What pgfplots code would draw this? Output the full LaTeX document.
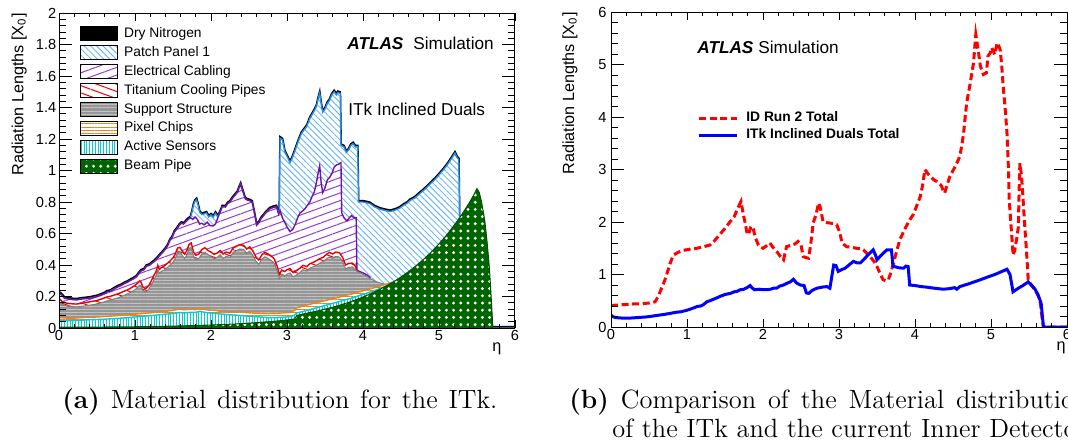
\documentclass[border=0pt]{standalone}
\usepackage{fontspec}
\newfontfamily\arial{Liberation Sans}
\usepackage{pgfplots}
\pgfplotsset{compat=1.18}
\usepackage{pgfplotstable}
\usetikzlibrary{patterns.meta}

\definecolor{ppline}{RGB}{40,140,230}
\definecolor{pphatch}{RGB}{90,175,250}
\definecolor{ecline}{RGB}{110,20,170}
\definecolor{echatch}{RGB}{150,60,205}
\definecolor{tiline}{RGB}{235,0,0}
\definecolor{ssfill}{RGB}{150,150,150}
\definecolor{sshatch}{RGB}{195,195,195}
\definecolor{ssline}{RGB}{125,125,125}
\definecolor{pcline}{RGB}{235,130,30}
\definecolor{asline}{RGB}{0,205,215}
\definecolor{bpfill}{RGB}{0,100,0}

% left panel: cumulative tops of the stacked layers
\pgfplotstableread{
x y
0.00 0.222
0.03 0.212
0.07 0.190
0.12 0.184
0.18 0.180
0.23 0.178
0.30 0.184
0.35 0.186
0.41 0.190
0.46 0.195
0.50 0.199
0.55 0.208
0.60 0.218
0.63 0.228
0.67 0.232
0.70 0.240
0.74 0.252
0.78 0.262
0.82 0.270
0.86 0.282
0.90 0.290
0.94 0.302
0.98 0.312
1.02 0.325
1.05 0.345
1.08 0.362
1.12 0.370
1.15 0.392
1.19 0.398
1.22 0.410
1.26 0.425
1.29 0.440
1.33 0.462
1.36 0.478
1.40 0.500
1.43 0.522
1.46 0.555
1.49 0.575
1.52 0.610
1.55 0.628
1.58 0.650
1.61 0.665
1.64 0.660
1.67 0.675
1.70 0.690
1.73 0.700
1.75 0.735
1.77 0.780
1.79 0.805
1.81 0.815
1.83 0.780
1.85 0.735
1.88 0.720
1.91 0.725
1.94 0.730
1.97 0.705
2.00 0.718
2.03 0.705
2.06 0.728
2.09 0.705
2.12 0.735
2.15 0.770
2.19 0.768
2.22 0.790
2.25 0.800
2.29 0.828
2.32 0.845
2.35 0.862
2.37 0.890
2.39 0.912
2.42 0.865
2.45 0.820
2.48 0.812
2.51 0.808
2.54 0.800
2.57 0.730
2.60 0.652
2.63 0.668
2.66 0.695
2.69 0.712
2.72 0.730
2.75 0.745
2.78 0.758
2.82 0.765
2.86 0.770
2.89 0.722
2.90 0.735
2.91 1.205
2.94 1.195
2.97 1.120
3.00 1.090
3.04 1.050
3.07 1.080
3.10 1.120
3.13 1.160
3.16 1.200
3.19 1.235
3.22 1.255
3.26 1.280
3.30 1.330
3.33 1.355
3.36 1.380
3.39 1.410
3.41 1.455
3.43 1.490
3.45 1.420
3.47 1.370
3.50 1.390
3.53 1.425
3.56 1.445
3.59 1.480
3.62 1.500
3.65 1.480
3.67 1.495
3.70 1.490
3.71 1.160
3.75 1.150
3.78 1.115
3.81 1.130
3.84 1.160
3.87 1.170
3.90 1.150
3.93 1.150
3.94 0.800
4.00 0.800
4.05 0.795
4.09 0.790
4.15 0.770
4.22 0.755
4.30 0.745
4.36 0.740
4.42 0.748
4.48 0.760
4.53 0.778
4.58 0.792
4.62 0.810
4.68 0.825
4.75 0.855
4.80 0.875
4.85 0.898
4.90 0.922
4.95 0.945
5.00 0.972
5.05 1.000
5.10 1.030
5.15 1.065
5.21 1.110
5.24 1.080
5.26 1.070
5.27 0.700
5.28 0.690
5.30 0.000
6.00 0.000
}\pp

\pgfplotstableread{
x y
0.00 0.222
0.03 0.212
0.07 0.190
0.12 0.184
0.18 0.180
0.23 0.178
0.30 0.184
0.35 0.186
0.41 0.190
0.46 0.195
0.50 0.199
0.55 0.208
0.60 0.218
0.63 0.228
0.67 0.232
0.70 0.240
0.74 0.252
0.78 0.262
0.82 0.270
0.86 0.282
0.90 0.290
0.94 0.302
0.98 0.312
1.02 0.325
1.05 0.345
1.08 0.362
1.12 0.370
1.15 0.392
1.19 0.398
1.22 0.410
1.26 0.425
1.29 0.440
1.33 0.462
1.36 0.478
1.40 0.500
1.43 0.522
1.46 0.555
1.49 0.575
1.52 0.610
1.55 0.628
1.58 0.650
1.61 0.665
1.64 0.660
1.67 0.675
1.70 0.690
1.73 0.700
1.76 0.690
1.79 0.705
1.82 0.690
1.85 0.660
1.88 0.665
1.91 0.655
1.95 0.672
1.99 0.650
2.03 0.648
2.06 0.662
2.09 0.700
2.12 0.735
2.15 0.770
2.19 0.768
2.22 0.790
2.25 0.800
2.29 0.828
2.32 0.845
2.35 0.862
2.37 0.890
2.39 0.912
2.42 0.865
2.45 0.820
2.48 0.812
2.51 0.808
2.54 0.800
2.57 0.730
2.60 0.652
2.63 0.668
2.66 0.695
2.69 0.712
2.72 0.730
2.75 0.745
2.78 0.758
2.82 0.765
2.86 0.770
2.89 0.722
2.91 0.745
2.94 0.700
2.97 0.672
3.00 0.642
3.04 0.612
3.08 0.630
3.11 0.660
3.14 0.700
3.17 0.730
3.21 0.745
3.24 0.760
3.27 0.780
3.30 0.800
3.33 0.835
3.36 0.865
3.39 0.930
3.41 0.985
3.43 1.030
3.45 0.920
3.47 0.860
3.50 0.890
3.53 0.940
3.56 0.955
3.59 0.980
3.62 1.020
3.65 1.035
3.68 1.040
3.71 1.050
3.72 0.730
3.75 0.700
3.79 0.680
3.82 0.700
3.85 0.715
3.88 0.700
3.91 0.700
3.92 0.365
3.96 0.358
4.00 0.350
4.05 0.338
4.09 0.322
4.12 0.000
}\ec

\pgfplotstableread{
x y
0.00 0.190
0.04 0.168
0.10 0.158
0.16 0.154
0.23 0.152
0.30 0.157
0.36 0.162
0.41 0.167
0.47 0.172
0.52 0.178
0.58 0.188
0.63 0.197
0.68 0.202
0.73 0.210
0.78 0.218
0.84 0.230
0.89 0.240
0.94 0.252
0.99 0.268
1.03 0.282
1.06 0.298
1.08 0.292
1.10 0.262
1.14 0.250
1.18 0.268
1.22 0.305
1.25 0.335
1.28 0.362
1.30 0.398
1.32 0.372
1.35 0.385
1.38 0.392
1.42 0.408
1.46 0.425
1.50 0.445
1.53 0.470
1.56 0.508
1.59 0.512
1.62 0.490
1.65 0.470
1.68 0.488
1.71 0.530
1.74 0.540
1.77 0.482
1.80 0.462
1.84 0.470
1.88 0.498
1.92 0.510
1.96 0.492
2.00 0.482
2.04 0.468
2.08 0.475
2.12 0.492
2.16 0.470
2.20 0.482
2.25 0.475
2.29 0.508
2.33 0.518
2.38 0.530
2.43 0.525
2.47 0.502
2.51 0.515
2.55 0.490
2.59 0.452
2.63 0.432
2.67 0.465
2.71 0.480
2.75 0.470
2.79 0.458
2.83 0.440
2.87 0.392
2.90 0.340
2.93 0.368
2.97 0.358
3.00 0.370
3.04 0.378
3.08 0.352
3.12 0.362
3.17 0.380
3.21 0.398
3.26 0.390
3.30 0.408
3.35 0.418
3.39 0.428
3.43 0.440
3.48 0.450
3.52 0.468
3.56 0.480
3.60 0.470
3.64 0.482
3.69 0.478
3.73 0.450
3.77 0.400
3.81 0.410
3.86 0.412
3.90 0.392
3.92 0.360
3.925 0.000
}\ti

\pgfplotstableread{
x y
0.00 0.168
0.04 0.150
0.10 0.140
0.16 0.136
0.23 0.134
0.30 0.138
0.36 0.142
0.41 0.146
0.47 0.150
0.52 0.156
0.58 0.164
0.63 0.172
0.68 0.178
0.73 0.185
0.78 0.192
0.84 0.204
0.89 0.214
0.94 0.225
0.99 0.240
1.03 0.255
1.06 0.272
1.08 0.268
1.10 0.240
1.14 0.228
1.18 0.245
1.22 0.280
1.25 0.308
1.28 0.335
1.30 0.372
1.32 0.348
1.35 0.360
1.38 0.366
1.42 0.382
1.46 0.398
1.50 0.418
1.53 0.442
1.56 0.480
1.59 0.485
1.62 0.462
1.65 0.442
1.68 0.460
1.71 0.502
1.74 0.512
1.77 0.455
1.80 0.435
1.84 0.442
1.88 0.470
1.92 0.482
1.96 0.465
2.00 0.455
2.04 0.440
2.08 0.448
2.12 0.465
2.16 0.442
2.20 0.455
2.25 0.448
2.29 0.480
2.33 0.490
2.38 0.502
2.43 0.498
2.47 0.475
2.51 0.488
2.55 0.462
2.59 0.425
2.63 0.405
2.67 0.438
2.71 0.452
2.75 0.442
2.79 0.430
2.83 0.412
2.87 0.365
2.90 0.315
2.93 0.340
2.97 0.330
3.00 0.342
3.04 0.350
3.08 0.325
3.12 0.335
3.17 0.352
3.21 0.370
3.26 0.362
3.30 0.380
3.35 0.390
3.39 0.400
3.43 0.412
3.48 0.422
3.52 0.440
3.56 0.452
3.60 0.442
3.64 0.455
3.69 0.450
3.73 0.425
3.77 0.375
3.81 0.385
3.86 0.388
3.90 0.368
3.92 0.360
3.96 0.350
4.00 0.342
4.05 0.330
4.09 0.315
4.17 0.295
4.25 0.282
4.32 0.275
4.40 0.000
}\ss

\pgfplotstableread{
x y
0.00 0.066
0.10 0.063
0.20 0.063
0.30 0.066
0.40 0.068
0.50 0.070
0.60 0.073
0.70 0.076
0.80 0.080
0.90 0.085
1.00 0.088
1.10 0.092
1.20 0.096
1.30 0.100
1.40 0.106
1.50 0.112
1.58 0.120
1.65 0.116
1.72 0.118
1.80 0.117
1.86 0.126
1.90 0.120
1.96 0.114
2.05 0.112
2.15 0.104
2.25 0.100
2.35 0.102
2.45 0.098
2.55 0.095
2.65 0.094
2.75 0.092
2.85 0.093
2.95 0.096
3.05 0.100
3.10 0.112
3.13 0.128
3.20 0.138
3.30 0.150
3.43 0.166
3.55 0.180
3.70 0.198
3.85 0.216
4.00 0.236
4.10 0.249
4.20 0.263
4.30 0.278
4.38 0.290
4.45 0.000
}\pc

\pgfplotstableread{
x y
0.00 0.047
0.10 0.046
0.20 0.048
0.30 0.050
0.40 0.052
0.50 0.054
0.60 0.056
0.70 0.059
0.80 0.062
0.90 0.066
1.00 0.070
1.10 0.074
1.20 0.078
1.30 0.083
1.40 0.088
1.50 0.092
1.58 0.098
1.65 0.096
1.72 0.099
1.80 0.100
1.86 0.106
1.90 0.101
1.96 0.097
2.05 0.093
2.15 0.088
2.25 0.084
2.35 0.081
2.45 0.077
2.55 0.073
2.65 0.070
2.75 0.066
2.85 0.066
2.95 0.069
3.05 0.073
3.10 0.082
3.13 0.096
3.20 0.104
3.30 0.117
3.43 0.134
3.55 0.150
3.70 0.170
3.85 0.190
4.00 0.214
4.10 0.229
4.20 0.246
4.30 0.266
4.38 0.281
4.45 0.000
}\as

\pgfplotstableread{
x y
0.00 0.005
0.50 0.006
1.00 0.008
1.50 0.012
2.00 0.019
2.30 0.025
2.50 0.031
2.70 0.038
2.90 0.046
3.05 0.054
3.10 0.058
3.13 0.080
3.20 0.088
3.30 0.098
3.40 0.108
3.50 0.120
3.60 0.132
3.70 0.146
3.80 0.161
3.90 0.178
4.00 0.197
4.10 0.218
4.20 0.240
4.30 0.266
4.40 0.293
4.50 0.324
4.60 0.358
4.70 0.396
4.80 0.437
4.90 0.483
5.00 0.534
5.10 0.590
5.20 0.652
5.30 0.720
5.40 0.796
5.45 0.838
5.50 0.885
5.53 0.860
5.56 0.800
5.60 0.690
5.63 0.560
5.66 0.400
5.68 0.250
5.70 0.080
5.71 0.000
}\bp

% right panel
\pgfplotstableread{
x y
0.00 0.41
0.10 0.42
0.20 0.43
0.30 0.44
0.38 0.44
0.45 0.45
0.52 0.46
0.58 0.48
0.62 0.58
0.66 0.72
0.71 0.90
0.75 1.08
0.78 1.22
0.82 1.37
0.88 1.42
0.95 1.46
1.03 1.48
1.13 1.50
1.22 1.53
1.30 1.56
1.36 1.64
1.43 1.76
1.50 1.88
1.57 2.01
1.62 2.10
1.65 2.20
1.68 2.30
1.71 2.39
1.74 2.15
1.77 1.95
1.79 1.78
1.81 1.76
1.84 1.92
1.87 1.88
1.90 1.70
1.94 1.56
1.97 1.52
2.00 1.50
2.04 1.54
2.09 1.60
2.13 1.52
2.18 1.44
2.22 1.36
2.27 1.28
2.31 1.53
2.35 1.55
2.38 1.56
2.42 1.58
2.46 1.63
2.50 1.56
2.53 1.34
2.57 1.32
2.60 1.31
2.63 1.60
2.66 1.98
2.70 2.15
2.73 2.36
2.75 2.30
2.79 2.01
2.83 1.99
2.88 1.98
2.93 1.97
2.97 1.95
3.01 1.80
3.04 1.60
3.10 1.53
3.16 1.52
3.23 1.50
3.28 1.49
3.32 1.47
3.37 1.40
3.41 1.34
3.46 1.25
3.50 1.15
3.54 1.02
3.58 0.90
3.62 0.88
3.65 0.90
3.68 1.03
3.71 1.18
3.75 1.40
3.80 1.66
3.86 1.85
3.93 2.04
3.98 2.15
4.02 2.30
4.07 2.49
4.10 2.70
4.13 3.00
4.17 2.92
4.20 2.87
4.25 2.80
4.29 2.77
4.33 2.72
4.35 2.68
4.37 2.60
4.39 2.55
4.42 2.70
4.46 2.87
4.50 2.98
4.55 3.12
4.59 3.25
4.62 3.50
4.64 3.70
4.66 4.00
4.68 4.27
4.72 4.59
4.75 4.85
4.77 5.03
4.79 5.40
4.80 5.57
4.83 5.29
4.86 4.97
4.90 4.81
4.94 4.84
4.96 5.16
4.99 5.22
5.01 5.32
5.03 5.25
5.05 5.19
5.08 5.41
5.10 5.36
5.12 5.29
5.14 5.00
5.16 4.59
5.19 4.10
5.21 3.70
5.23 3.00
5.24 2.42
5.26 2.00
5.28 1.60
5.29 1.37
5.31 1.45
5.34 1.70
5.36 1.91
5.37 2.60
5.38 3.12
5.40 2.90
5.42 2.49
5.44 2.00
5.46 1.60
5.49 0.90
5.53 0.80
5.58 0.70
5.62 0.60
5.65 0.45
5.67 0.20
5.69 0.00
6.00 0.00
}\idrun

\pgfplotstableread{
x y
0.00 0.23
0.02 0.20
0.06 0.18
0.15 0.17
0.25 0.17
0.35 0.18
0.45 0.19
0.51 0.20
0.60 0.22
0.70 0.24
0.78 0.26
0.85 0.28
0.92 0.29
1.00 0.32
1.06 0.35
1.10 0.37
1.13 0.39
1.18 0.40
1.22 0.43
1.26 0.48
1.30 0.50
1.35 0.53
1.40 0.56
1.43 0.58
1.50 0.62
1.57 0.64
1.62 0.67
1.66 0.68
1.70 0.71
1.75 0.72
1.80 0.76
1.83 0.79
1.86 0.74
1.89 0.71
1.95 0.72
2.00 0.71
2.05 0.71
2.10 0.72
2.14 0.74
2.18 0.74
2.22 0.78
2.27 0.80
2.31 0.83
2.36 0.86
2.40 0.91
2.44 0.84
2.49 0.80
2.54 0.79
2.57 0.65
2.60 0.64
2.65 0.70
2.71 0.74
2.78 0.76
2.84 0.77
2.88 0.74
2.93 1.18
2.96 1.17
2.99 1.06
3.03 1.09
3.08 1.12
3.13 1.18
3.19 1.25
3.24 1.22
3.28 1.22
3.33 1.29
3.36 1.34
3.40 1.40
3.45 1.47
3.48 1.37
3.50 1.28
3.55 1.36
3.60 1.43
3.63 1.47
3.66 1.47
3.69 1.47
3.71 1.16
3.78 1.13
3.85 1.12
3.88 1.16
3.91 1.15
3.93 0.80
4.00 0.79
4.08 0.77
4.15 0.76
4.25 0.74
4.37 0.72
4.45 0.73
4.52 0.75
4.55 0.72
4.59 0.77
4.70 0.82
4.80 0.87
4.86 0.90
4.95 0.95
5.05 1.00
5.13 1.05
5.21 1.10
5.25 1.00
5.29 0.67
5.35 0.73
5.42 0.79
5.49 0.86
5.53 0.80
5.58 0.72
5.62 0.61
5.66 0.45
5.69 0.00
6.00 0.00
}\itk

\pgfplotsset{
  atlas/.style={
    scale only axis, width=228pt, height=157.5pt,
    xmin=0, xmax=6, xtick={0,1,2,3,4,5,6}, minor x tick num=4,
    tick align=inside, axis on top,
    axis line style={line width=0.5pt},
    every tick/.style={black, line width=0.4pt},
    major tick length=6.5pt, minor tick length=3.5pt,
    xtick style={/pgfplots/major tick length=4pt},
    every minor x tick/.append style={/pgfplots/minor tick length=2pt},
    /pgf/number format/assume math mode=true,
    tick label style={font=\arial\fontsize{7.3}{8}\selectfont},
    xticklabel style={inner sep=0pt, yshift=-1pt},
    label style={font=\arial\fontsize{8.1}{9}\selectfont},
    xlabel={η},
    ylabel={Radiation Lengths [X\textsubscript{0}]},
  },
  layer/.style={forget plot, draw=none},
}

\begin{document}
\begin{tikzpicture}
\useasboundingbox (0,0) rectangle (534pt,-223.5pt);

\begin{axis}[atlas, at={(29.5pt,-164pt)}, anchor=south west,
  ymin=0, ymax=2, ytick={0,0.2,0.4,0.6,0.8,1,1.2,1.4,1.6,1.8,2}, minor y tick num=4,
  yticklabel style={inner sep=0pt, xshift=-1.2pt},
  xlabel style={at={(axis description cs:0.96,-0.067)}, anchor=center, inner sep=0pt},
  ylabel style={at={(axis description cs:-0.070,1)}, anchor=south east, inner sep=0pt},
  legend image code/.code={\path[#1] (0pt,-3.5pt) rectangle (18.5pt,3.5pt);},
  legend style={at={(axis description cs:0.046,0.959)}, anchor=north west,
    draw=none, fill=none, inner sep=0pt, row sep=2.05pt, column sep=3pt,
    font=\arial\fontsize{6.9}{8}\selectfont,
    nodes={inner sep=0pt, text height=5.2pt, text depth=1.5pt}},
  legend cell align=left,
]
\addlegendimage{fill=black}
\addlegendentry{Dry Nitrogen}
\addlegendimage{fill=white, pattern={Lines[angle=-45,distance=2.2pt,line width=0.4pt]}, pattern color=pphatch}
\addlegendentry{Patch Panel 1}
\addlegendimage{fill=white, pattern={Lines[angle=20,distance=3.6pt,line width=0.5pt]}, pattern color=echatch}
\addlegendentry{Electrical Cabling}
\addlegendimage{fill=white, pattern={Lines[angle=-20,distance=3.4pt,line width=0.5pt]}, pattern color=tiline}
\addlegendentry{Titanium Cooling Pipes}
\addlegendimage{preaction={fill=ssfill}, pattern={Lines[angle=0,distance=1.6pt,line width=0.5pt]}, pattern color=sshatch}
\addlegendentry{Support Structure}
\addlegendimage{fill=white, pattern={Lines[angle=0,distance=1.6pt,line width=0.5pt]}, pattern color=pcline}
\addlegendentry{Pixel Chips}
\addlegendimage{fill=white, pattern={Lines[angle=90,distance=1.4pt,line width=0.4pt]}, pattern color=asline}
\addlegendentry{Active Sensors}
\addlegendimage{preaction={fill=bpfill}, pattern={Dots[distance=3.6pt,radius=0.8pt]}, pattern color=white}
\addlegendentry{Beam Pipe}

% dry nitrogen: thin black skin on top of the stack
\addplot[forget plot, black, line width=1pt, yshift=0.6pt] table {\pp};
% patch panel 1
\addplot[layer, fill=white] table {\pp} \closedcycle;
\addplot[layer, pattern={Lines[angle=-45,distance=2.2pt,line width=0.4pt]}, pattern color=pphatch] table {\pp} \closedcycle;
\addplot[forget plot, ppline, line width=0.7pt] table {\pp};
% electrical cabling
\addplot[layer, fill=white] table {\ec} \closedcycle;
\addplot[layer, pattern={Lines[angle=20,distance=3.6pt,line width=0.5pt]}, pattern color=echatch] table {\ec} \closedcycle;
\addplot[forget plot, ecline, line width=0.7pt] table {\ec};
% titanium cooling pipes
\addplot[layer, fill=white] table {\ti} \closedcycle;
\addplot[layer, pattern={Lines[angle=-20,distance=3.4pt,line width=0.5pt]}, pattern color=tiline] table {\ti} \closedcycle;
\addplot[forget plot, tiline, line width=0.7pt] table {\ti};
% support structure
\addplot[layer, fill=ssfill] table {\ss} \closedcycle;
\addplot[layer, pattern={Lines[angle=0,distance=1.6pt,line width=0.5pt]}, pattern color=sshatch] table {\ss} \closedcycle;
\addplot[forget plot, ssline, line width=0.5pt] table {\ss};
% pixel chips
\addplot[layer, fill=white] table {\pc} \closedcycle;
\addplot[layer, pattern={Lines[angle=0,distance=1.6pt,line width=0.5pt]}, pattern color=pcline] table {\pc} \closedcycle;
\addplot[forget plot, pcline, line width=0.7pt] table {\pc};
% active sensors
\addplot[layer, fill=white] table {\as} \closedcycle;
\addplot[layer, pattern={Lines[angle=90,distance=1.4pt,line width=0.4pt]}, pattern color=asline] table {\as} \closedcycle;
\addplot[forget plot, asline, line width=0.7pt] table {\as};
% beam pipe
\addplot[layer, fill=bpfill] table {\bp} \closedcycle;
\addplot[layer, pattern={Dots[distance=3.6pt,radius=0.8pt]}, pattern color=white] table {\bp} \closedcycle;
\addplot[forget plot, bpfill!80!black, line width=0.5pt] table {\bp};
\end{axis}

\begin{axis}[atlas, at={(305.5pt,-163.5pt)}, anchor=south west,
  ymin=0, ymax=6, ytick={0,1,2,3,4,5,6}, minor y tick num=4,
  yticklabel style={inner sep=0pt, xshift=-2.1pt},
  xlabel style={at={(axis description cs:0.987,-0.067)}, anchor=center, inner sep=0pt},
  ylabel style={at={(axis description cs:-0.0725,1)}, anchor=south east, inner sep=0pt},
  legend image code/.code={\draw[#1] (0pt,0pt) -- (19pt,0pt);},
  legend style={at={(axis description cs:0.1886,0.686)}, anchor=north west,
    draw=none, fill=none, inner sep=0pt, row sep=1.8pt, column sep=4pt,
    font=\arial\bfseries\fontsize{6.9}{8}\selectfont,
    nodes={inner sep=0pt, text height=5.2pt, text depth=1.5pt}},
  legend cell align=left,
]
\addplot[red, line width=1.5pt, dash pattern=on 3.5pt off 1.8pt] table {\idrun};
\addlegendentry{ID Run 2 Total}
\addplot[blue, line width=1.5pt] table {\itk};
\addlegendentry{ITk Inclined Duals Total}
\end{axis}

% ATLAS labels and captions
\node[anchor=base west, inner sep=0pt, font=\arial\bfseries\itshape\fontsize{8.6}{10}\selectfont] at (173.5pt,-24.6pt) {ATLAS};
\node[anchor=base west, inner sep=0pt, font=\arial\fontsize{8.6}{10}\selectfont] at (206.5pt,-24.6pt) {Simulation};
\node[anchor=base west, inner sep=0pt, font=\arial\fontsize{8.6}{10}\selectfont] at (174pt,-57.6pt) {ITk Inclined Duals};
\node[anchor=base west, inner sep=0pt, font=\arial\bfseries\itshape\fontsize{8.6}{10}\selectfont] at (348.5pt,-26.6pt) {ATLAS};
\node[anchor=base west, inner sep=0pt, font=\arial\fontsize{8.6}{10}\selectfont] at (379pt,-26.6pt) {Simulation};

\node[anchor=base west, inner sep=0pt, font=\fontsize{13.2}{15}\selectfont] at (31pt,-204pt) {\makebox[217.5pt][s]{\textbf{(a)} Material distribution for the ITk.}};
\node[anchor=base west, inner sep=0pt, font=\fontsize{13.2}{15}\selectfont] at (284.5pt,-204pt) {\makebox[259.5pt][s]{\textbf{(b)} Comparison of the Material distribution}};
\node[anchor=base west, inner sep=0pt, font=\fontsize{13.2}{15}\selectfont] at (306pt,-218.5pt) {of the ITk and the current Inner Detector.};
\end{tikzpicture}
\end{document}
